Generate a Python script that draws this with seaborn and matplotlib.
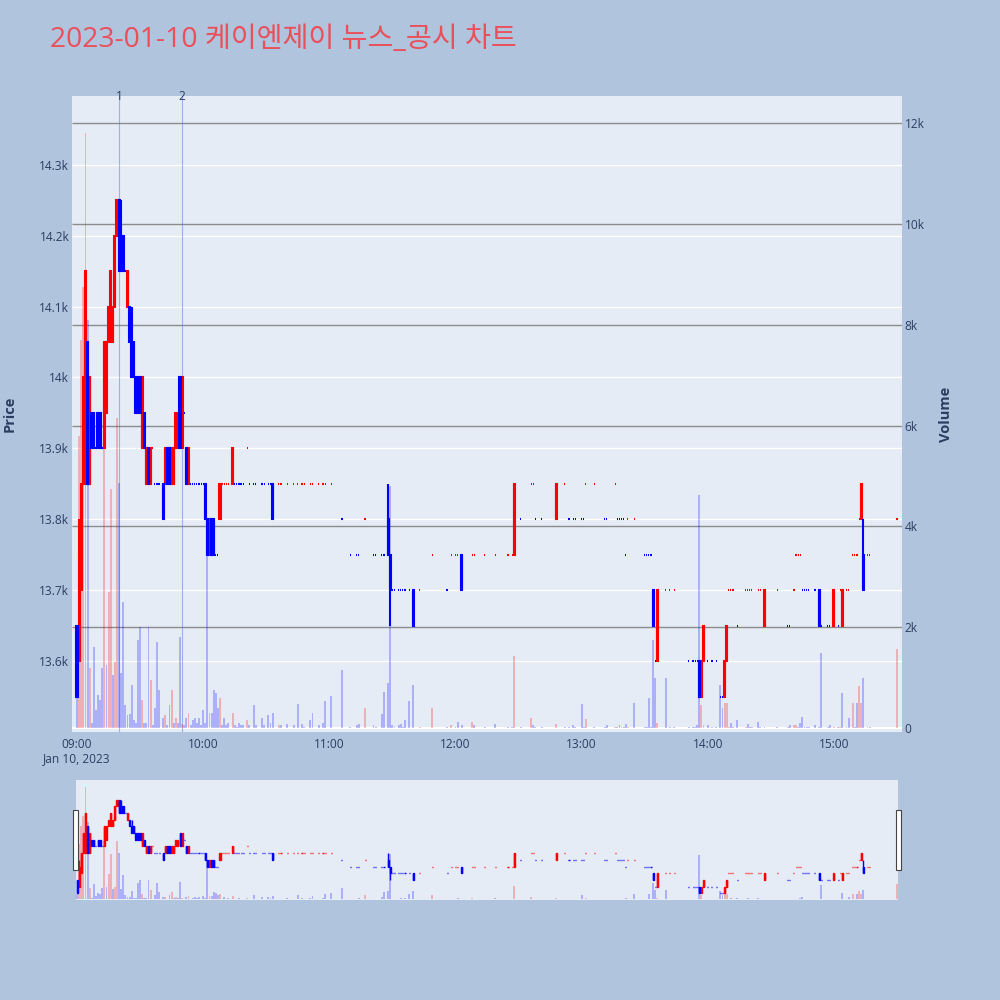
import numpy as np
import pandas as pd
import matplotlib
matplotlib.use("Agg")
import matplotlib.pyplot as plt
import matplotlib.transforms as mtransforms
from matplotlib.patches import Rectangle
import seaborn as sns

# ==========================================
# 데이터 (1분봉, 09:00 기준 분 단위)
# ==========================================
minute = [
    0, 1, 2, 3, 4, 5, 6, 7, 8, 9, 10, 11, 12, 13, 14, 15, 16, 17, 18, 19,
    20, 21, 22, 23, 24, 25, 26, 27, 28, 29, 30, 31, 32, 33, 34, 35, 36, 37, 38, 39,
    41, 42, 43, 44, 45, 46, 47, 48, 49, 50, 51, 52, 53, 54, 55, 56, 57, 58, 59, 60,
    61, 62, 63, 64, 65, 66, 67, 68, 69, 70, 71, 72, 74, 75, 76, 77, 78, 79, 81, 82,
    84, 85, 88, 89, 91, 92, 93,
    96, 97, 100, 103, 105, 107, 108, 111, 112, 115, 117, 118, 121,
    126, 130, 133, 134, 137, 141, 142, 145, 146, 148, 149, 150, 151, 153, 154, 155, 156, 158, 160, 163,
    169, 176, 178, 180, 181, 183,
    188, 189, 194, 199, 205, 207, 208, 211, 216, 217, 218, 221, 228, 232, 234, 236, 237, 240, 241, 242,
    246, 251, 252, 256, 257, 258, 259, 260, 261, 262, 265,
    270, 271, 272, 273, 274, 275, 276, 280, 282, 284, 291, 293, 294, 295, 296, 297, 298, 300, 302, 304,
    306, 307, 308, 309, 310, 311, 312, 314,
    318, 319, 320, 321, 324, 325, 327, 333, 338, 339, 341, 342, 343, 344, 345, 346, 347, 348, 351, 353,
    354, 357, 358, 360, 362, 363, 364, 366, 367, 369, 370, 371, 372, 373, 374, 376, 377, 390,
]
open_ = [
    13650, 13600, 13700, 13850, 13850, 14050, 13850, 13950, 13950, 13900, 13950, 13950, 13900, 13900, 13950, 14050, 14050, 14050, 14100, 14200,
    14250, 14200, 14200, 14150, 14100, 14100, 14050, 14050, 14000, 14000, 14000, 13900, 13950, 13850, 13900, 13850, 13900, 13850, 13850, 13850,
    13850, 13850, 13900, 13900, 13850, 13850, 13900, 13900, 14000, 13900, 13950, 13900, 13850, 13850, 13850, 13850, 13850, 13850, 13850, 13850,
    13850, 13800, 13750, 13800, 13800, 13750, 13750, 13800, 13850, 13850, 13850, 13850, 13850, 13850, 13850, 13850, 13850, 13850, 13900, 13850,
    13850, 13850, 13850, 13850, 13850, 13850, 13850,
    13850, 13850, 13850, 13850, 13850, 13850, 13850, 13850, 13850, 13850, 13850, 13850, 13850,
    13800, 13750, 13750, 13750, 13800, 13750, 13750, 13750, 13750, 13800, 13750, 13700, 13700, 13700, 13700, 13700, 13700, 13700, 13700, 13700,
    13750, 13700, 13750, 13750, 13750, 13750,
    13750, 13750, 13750, 13750, 13750, 13750, 13750, 13800, 13850, 13850, 13800, 13800, 13800, 13850, 13800, 13800, 13800, 13800, 13800, 13850,
    13850, 13800, 13800, 13850, 13800, 13800, 13800, 13800, 13750, 13800, 13800,
    13750, 13750, 13750, 13750, 13700, 13600, 13600, 13700, 13700, 13700, 13600, 13600, 13600, 13600, 13600, 13550, 13600, 13600, 13600, 13600,
    13550, 13550, 13550, 13600, 13700, 13700, 13700, 13650,
    13700, 13700, 13700, 13700, 13700, 13700, 13650, 13700, 13650, 13650, 13700, 13750, 13750, 13750, 13700, 13700, 13700, 13700, 13700, 13700,
    13650, 13650, 13650, 13650, 13650, 13700, 13650, 13700, 13700, 13750, 13750, 13750, 13800, 13800, 13750, 13750, 13750, 13800,
]
high = [
    13650, 13800, 13850, 14000, 14150, 14050, 14000, 13950, 13950, 13900, 13950, 13950, 13900, 14050, 14050, 14100, 14150, 14100, 14200, 14250,
    14250, 14250, 14200, 14150, 14150, 14100, 14100, 14050, 14000, 14000, 14000, 14000, 13950, 13900, 13900, 13900, 13900, 13850, 13850, 13850,
    13850, 13900, 13900, 13900, 13900, 13900, 13950, 13950, 14000, 14000, 13950, 13900, 13900, 13850, 13850, 13850, 13850, 13850, 13850, 13850,
    13850, 13800, 13800, 13800, 13800, 13750, 13750, 13850, 13850, 13850, 13850, 13850, 13900, 13850, 13850, 13850, 13850, 13850, 13900, 13850,
    13850, 13850, 13850, 13850, 13850, 13850, 13850,
    13850, 13850, 13850, 13850, 13850, 13850, 13850, 13850, 13850, 13850, 13850, 13850, 13850,
    13800, 13750, 13750, 13750, 13800, 13750, 13750, 13750, 13750, 13850, 13750, 13700, 13700, 13700, 13700, 13700, 13700, 13700, 13700, 13700,
    13750, 13700, 13750, 13750, 13750, 13750,
    13750, 13750, 13750, 13750, 13750, 13750, 13850, 13800, 13850, 13850, 13800, 13800, 13850, 13850, 13800, 13800, 13800, 13800, 13800, 13850,
    13850, 13800, 13800, 13850, 13800, 13800, 13800, 13800, 13750, 13800, 13800,
    13750, 13750, 13750, 13750, 13700, 13600, 13700, 13700, 13700, 13700, 13600, 13600, 13600, 13600, 13600, 13600, 13650, 13600, 13600, 13600,
    13550, 13550, 13600, 13650, 13700, 13700, 13700, 13650,
    13700, 13700, 13700, 13700, 13700, 13700, 13700, 13700, 13650, 13650, 13700, 13750, 13750, 13750, 13700, 13700, 13700, 13700, 13700, 13700,
    13650, 13650, 13650, 13700, 13650, 13700, 13700, 13700, 13700, 13750, 13750, 13750, 13800, 13850, 13800, 13750, 13750, 13800,
]
low = [
    13550, 13600, 13700, 13850, 13850, 13850, 13850, 13900, 13900, 13900, 13900, 13900, 13900, 13900, 13950, 14050, 14050, 14050, 14100, 14200,
    14150, 14150, 14150, 14150, 14100, 14050, 14000, 14000, 13950, 13950, 13950, 13900, 13900, 13850, 13850, 13850, 13900, 13850, 13850, 13850,
    13800, 13850, 13850, 13850, 13850, 13850, 13900, 13900, 13900, 13900, 13950, 13850, 13850, 13850, 13850, 13850, 13850, 13850, 13850, 13850,
    13800, 13750, 13750, 13750, 13750, 13750, 13750, 13800, 13850, 13850, 13850, 13850, 13850, 13850, 13850, 13850, 13850, 13850, 13900, 13850,
    13850, 13850, 13850, 13850, 13850, 13850, 13800,
    13850, 13850, 13850, 13850, 13850, 13850, 13850, 13850, 13850, 13850, 13850, 13850, 13850,
    13800, 13750, 13750, 13750, 13800, 13750, 13750, 13750, 13750, 13750, 13650, 13700, 13700, 13700, 13700, 13700, 13700, 13700, 13650, 13700,
    13750, 13700, 13750, 13750, 13750, 13700,
    13750, 13750, 13750, 13750, 13750, 13750, 13750, 13800, 13850, 13850, 13800, 13800, 13800, 13850, 13800, 13800, 13800, 13800, 13800, 13850,
    13850, 13800, 13800, 13850, 13800, 13800, 13800, 13800, 13750, 13800, 13800,
    13750, 13750, 13750, 13750, 13650, 13600, 13600, 13700, 13700, 13700, 13600, 13600, 13600, 13600, 13550, 13550, 13600, 13600, 13600, 13600,
    13550, 13550, 13550, 13600, 13700, 13700, 13700, 13650,
    13700, 13700, 13700, 13700, 13700, 13700, 13650, 13700, 13650, 13650, 13700, 13750, 13750, 13750, 13700, 13700, 13700, 13700, 13700, 13650,
    13650, 13650, 13650, 13650, 13650, 13700, 13650, 13700, 13700, 13750, 13750, 13750, 13800, 13800, 13700, 13750, 13750, 13800,
]
close = [
    13550, 13750, 13850, 14000, 14150, 13850, 14000, 13900, 13900, 13900, 13900, 13900, 13900, 14050, 14050, 14100, 14150, 14100, 14200, 14250,
    14150, 14150, 14150, 14150, 14150, 14050, 14000, 14000, 13950, 13950, 13950, 14000, 13900, 13900, 13850, 13900, 13900, 13850, 13850, 13850,
    13800, 13900, 13850, 13850, 13900, 13900, 13950, 13950, 13900, 14000, 13950, 13850, 13900, 13850, 13850, 13850, 13850, 13850, 13850, 13850,
    13800, 13750, 13800, 13750, 13750, 13750, 13750, 13850, 13850, 13850, 13850, 13850, 13900, 13850, 13850, 13850, 13850, 13850, 13900, 13850,
    13850, 13850, 13850, 13850, 13850, 13850, 13800,
    13850, 13850, 13850, 13850, 13850, 13850, 13850, 13850, 13850, 13850, 13850, 13850, 13850,
    13800, 13750, 13750, 13750, 13800, 13750, 13750, 13750, 13750, 13750, 13700, 13700, 13700, 13700, 13700, 13700, 13700, 13700, 13650, 13700,
    13750, 13700, 13750, 13750, 13750, 13700,
    13750, 13750, 13750, 13750, 13750, 13750, 13850, 13800, 13850, 13850, 13800, 13800, 13850, 13850, 13800, 13800, 13800, 13800, 13800, 13850,
    13850, 13800, 13800, 13850, 13800, 13800, 13800, 13800, 13750, 13800, 13800,
    13750, 13750, 13750, 13750, 13650, 13600, 13700, 13700, 13700, 13700, 13600, 13600, 13600, 13600, 13550, 13600, 13650, 13600, 13600, 13600,
    13550, 13550, 13600, 13650, 13700, 13700, 13700, 13650,
    13700, 13700, 13700, 13700, 13700, 13700, 13700, 13700, 13650, 13650, 13700, 13750, 13750, 13750, 13700, 13700, 13700, 13700, 13700, 13650,
    13650, 13650, 13650, 13700, 13650, 13700, 13700, 13700, 13700, 13750, 13750, 13750, 13800, 13850, 13700, 13750, 13750, 13800,
]
volume = [
    600, 5800, 7700, 8750, 11800, 8100, 1200, 100, 1600, 350, 650, 550, 1200, 6150, 1250, 2700, 4750, 1050, 1300, 6150,
    4850, 1100, 2500, 450, 250, 280, 850, 150, 100, 1750, 2000, 550, 100, 100, 2000, 950, 50, 400, 1700, 750,
    200, 250, 50, 450, 750, 100, 200, 100, 1800, 80, 50, 200, 300, 50, 150, 200, 100, 200, 50, 350,
    100, 4050, 300, 300, 750, 700, 400, 600, 50, 200, 50, 100, 300, 50, 30, 100, 50, 50, 150, 50,
    450, 50, 200, 50, 250, 100, 300,
    50, 50, 80, 50, 480, 80, 30, 150, 300, 50, 100, 540, 640,
    1160, 30, 50, 80, 400, 50, 30, 280, 710, 900, 4800, 50, 30, 50, 80, 30, 150, 540, 850, 30,
    400, 30, 50, 30, 120, 50,
    120, 50, 30, 80, 30, 30, 1420, 30, 200, 50, 30, 30, 80, 30, 30, 50, 30, 480, 30, 180,
    30, 30, 50, 30, 30, 50, 30, 30, 80, 30, 500,
    30, 30, 600, 30, 1750, 1000, 100, 1000, 30, 30, 30, 30, 30, 50, 4630, 460, 50, 50, 30, 30,
    850, 400, 500, 500, 30, 100, 30, 150,
    30, 80, 30, 30, 120, 30, 30, 30, 30, 50, 60, 60, 30, 100, 220, 30, 30, 30, 50, 30,
    1490, 30, 50, 30, 30, 30, 700, 30, 200, 500, 30, 500, 840, 500, 1000, 30, 30, 1570,
]

tick_minutes = [0, 60, 120, 180, 240, 300, 360]
tick_labels = ["09:00", "10:00", "11:00", "12:00", "13:00", "14:00", "15:00"]
price_ticks = [13600, 13700, 13800, 13900, 14000, 14100, 14200, 14300]
price_tick_labels = ["13.6k", "13.7k", "13.8k", "13.9k", "14k", "14.1k", "14.2k", "14.3k"]
vol_ticks = [0, 2000, 4000, 6000, 8000, 10000, 12000]
vol_tick_labels = ["0", "2k", "4k", "6k", "8k", "10k", "12k"]
news_minutes = [20, 50]
news_labels = ["1", "2"]
title = "2023-01-10 케이엔제이 뉴스_공시 차트"

# ==========================================
# 스타일
# ==========================================
sns.set_theme(style="white")
plt.rcParams['font.family'] = ['Open Sans', 'Noto Sans CJK KR', 'DejaVu Sans']

INC = '#FF0000'
DEC = '#0000FF'
BG = '#B0C4DE'
PLOT_BG = '#E5ECF6'
TXT = '#2a3f5f'

df = pd.DataFrame(dict(minute=minute, open=open_, high=high, low=low,
                       close=close, volume=volume))
assert len(set(len(v) for v in [minute, open_, high, low, close, volume])) == 1

# 캔들 방향 (시가=종가 인 경우 직전 종가와 비교)
up = []
prev_close, prev_up = None, True
for o, c in zip(df['open'], df['close']):
    if c != o:
        d = c > o
    elif prev_close is None or c == prev_close:
        d = prev_up
    else:
        d = c > prev_close
    up.append(d)
    prev_close, prev_up = c, d
df['up'] = up
# 거래량 색: 직전 종가 대비 상승이면 빨강
df['vol_up'] = df['close'] > df['close'].shift(1).fillna(df['open'])


def draw(ax_p, ax_v, lw, body_w):
    for flag, col in [(True, INC), (False, DEC)]:
        part = df[df['vol_up'] == flag]
        ax_v.bar(part['minute'], part['volume'], width=0.9, color=col,
                 alpha=0.25, linewidth=0, zorder=2)
    for flag, col in [(True, INC), (False, DEC)]:
        part = df[df['up'] == flag]
        ax_p.vlines(part['minute'], part['low'], part['high'], color=col,
                    lw=lw, zorder=3)
        bottom = part[['open', 'close']].min(axis=1)
        ax_p.bar(part['minute'], (part['close'] - part['open']).abs(),
                 bottom=bottom, width=body_w, color=col, edgecolor=col,
                 linewidth=lw, zorder=3)


fig = plt.figure(figsize=(10, 10), dpi=100, facecolor=BG)

# --- 메인 차트 ---
ax_vol = fig.add_axes([0.072, 0.268, 0.830, 0.636], facecolor=PLOT_BG)
ax = ax_vol.twinx()
ax.yaxis.set_ticks_position('left')
ax_vol.yaxis.set_ticks_position('right')
ax.grid(False)
ax_vol.grid(False)

price_tr = mtransforms.blended_transform_factory(ax_vol.transAxes, ax.transData)
ax_vol.hlines(price_ticks, 0, 1, transform=price_tr, colors='white', lw=1.0, zorder=0.5)
ax_vol.hlines(vol_ticks[1:], 0, 1, transform=ax_vol.get_yaxis_transform(),
              colors='#8c8c8c', lw=1.0, zorder=0.6)
ax_vol.axhline(0, color='white', lw=1.5, zorder=0.6)

draw(ax, ax_vol, lw=1.5, body_w=0.55)

for m, lbl in zip(news_minutes, news_labels):
    ax_vol.axvline(m, color='#4169E1', alpha=0.45, lw=0.8, zorder=1.5)
    ax_vol.text(m, 1.0, lbl, transform=ax_vol.get_xaxis_transform(),
                ha='center', va='center', fontsize=8.6, color=TXT)

ax.set_xlim(-2.4, 392.4)
ax.set_ylim(13500, 14397)
ax_vol.set_ylim(-79, 12536)

ax.set_yticks(price_ticks, price_tick_labels)
ax_vol.set_yticks(vol_ticks, vol_tick_labels)
ax_vol.set_xticks(tick_minutes, tick_labels)
ax.tick_params(axis='y', length=0, pad=2, labelsize=8.6, labelcolor=TXT)
ax_vol.tick_params(axis='y', length=0, pad=2, labelsize=8.6, labelcolor=TXT)
ax_vol.tick_params(axis='x', length=0, pad=4, labelsize=8.6, labelcolor=TXT)
ax_vol.text(0, -0.041, "Jan 10, 2023", transform=ax_vol.get_xaxis_transform(),
            ha='center', va='center', fontsize=8.6, color=TXT)
sns.despine(ax=ax, left=True, bottom=True)
sns.despine(ax=ax_vol, left=True, bottom=True)
for a in (ax, ax_vol):
    for s in a.spines.values():
        s.set_visible(False)

# --- 레인지 슬라이더 ---
ax_s = fig.add_axes([0.076, 0.100, 0.822, 0.120], facecolor=PLOT_BG)
ax_sp = ax_s.twinx()
draw(ax_sp, ax_s, lw=1.0, body_w=0.5)
ax_s.set_xlim(-0.5, 390.5)
ax_sp.set_ylim(13500, 14397)
ax_s.set_ylim(-79, 12536)
for a in (ax_s, ax_sp):
    a.set_xticks([])
    a.set_yticks([])
    a.grid(False)
    for s in a.spines.values():
        s.set_visible(False)

for x0 in (73, 896):
    fig.add_artist(Rectangle((x0 / 1000, 1 - 870 / 1000), 5 / 1000, 60 / 1000,
                             transform=fig.transFigure, facecolor='white',
                             edgecolor='#444444', lw=0.8))

# --- 텍스트 ---
fig.text(0.050, 0.960, title, fontsize=20.3, color='#EB4F5A', ha='left', va='center')
fig.text(0.010, 0.586, "Price", rotation=90, fontsize=10.5, fontweight='bold',
         color=TXT, ha='center', va='center')
fig.text(0.946, 0.586, "Volume", rotation=90, fontsize=10.5, fontweight='bold',
         color=TXT, ha='center', va='center')

fig.savefig('out.png', dpi=100, facecolor=BG)
